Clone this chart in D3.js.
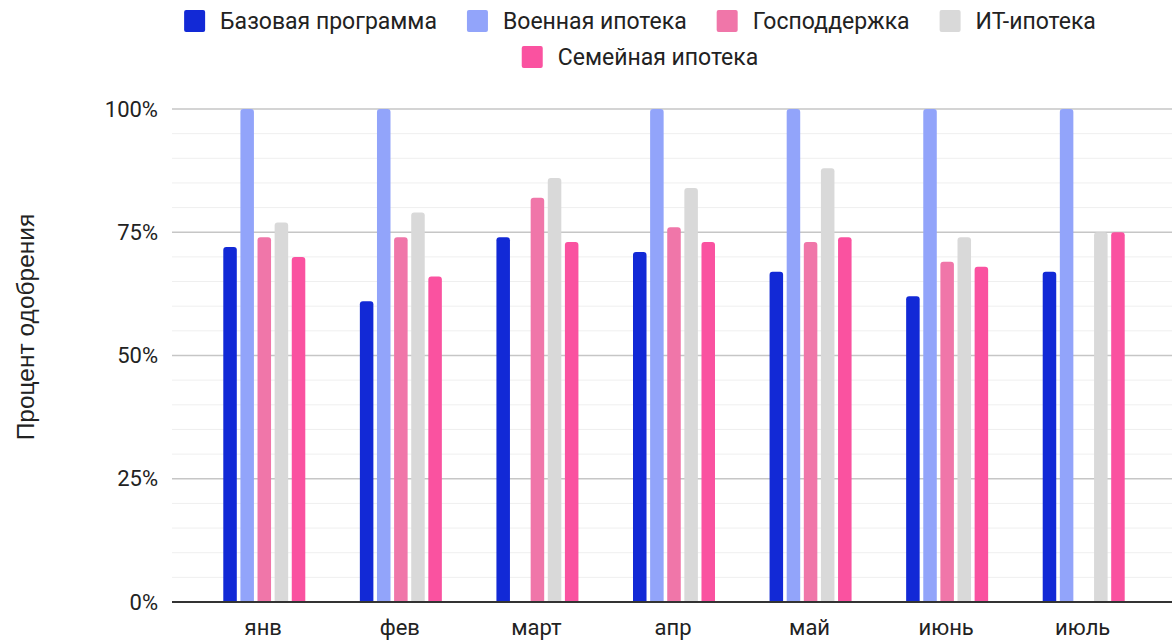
<!DOCTYPE html>
<html><head><meta charset="utf-8">
<script src="https://d3js.org/d3.v7.min.js"></script>
<style>
body { margin: 0; background: #fff; }
text { font-family: Roboto, "Noto Sans", sans-serif; fill: #222; }
</style></head>
<body>
<svg width="1172" height="641"></svg>
<script>
const months = ["янв", "фев", "март", "апр", "май", "июнь", "июль"];
const series = ["Базовая программа", "Военная ипотека", "Господдержка", "ИТ-ипотека", "Семейная ипотека"];
const colors = ["#1229d6", "#92a4fa", "#f076a9", "#d9d9d9", "#fa52a0"];
const bazovaya = [72, 61, 74, 71, 67, 62, 67];
const voennaya = [100, 100, null, 100, 100, 100, 100];
const gospod = [74, 74, 82, 76, 73, 69, null];
const itIpoteka = [77, 79, 86, 84, 88, 74, 75];
const semeynaya = [70, 66, 73, 73, 74, 68, 75];
const yTicks = [0, 25, 50, 75, 100];

const values = [bazovaya, voennaya, gospod, itIpoteka, semeynaya];
const svg = d3.select("svg");

const y = d3.scaleLinear().domain([0, 100]).range([602, 109]);
const x0 = d3.scaleBand().domain(months).range([196, 1152]);
const x1 = d3.scaleBand().domain(series).range([0, 82]).paddingInner(0.21);

// gridlines
svg.append("g").selectAll("line").data(d3.range(5, 100, 5).filter(v => v % 25 != 0))
  .enter().append("line")
  .attr("x1", 172).attr("x2", 1172)
  .attr("y1", d => y(d)).attr("y2", d => y(d))
  .attr("stroke", "#efefef");
svg.append("g").selectAll("line").data(yTicks.slice(1))
  .enter().append("line")
  .attr("x1", 172).attr("x2", 1172)
  .attr("y1", d => y(d)).attr("y2", d => y(d))
  .attr("stroke", "#c6c6c6").attr("stroke-width", 1.3);

// y labels
svg.append("g").selectAll("text").data(yTicks).enter().append("text")
  .attr("x", 158).attr("y", d => y(d)).attr("dy", "0.35em")
  .attr("text-anchor", "end").style("font-size", "22px")
  .text(d => d + "%");

svg.append("text")
  .attr("transform", "translate(25,327) rotate(-90)")
  .attr("text-anchor", "middle").attr("dy", "0.35em")
  .style("font-family", "'Liberation Sans', Arial, sans-serif")
  .style("font-size", "24.5px")
  .text("Процент одобрения");

// bars
function barPath(x, w, top, bottom, r) {
  r = Math.min(r, (bottom - top), w / 2);
  return "M" + x + "," + bottom + "V" + (top + r) +
    "Q" + x + "," + top + " " + (x + r) + "," + top +
    "H" + (x + w - r) + "Q" + (x + w) + "," + top + " " + (x + w) + "," + (top + r) +
    "V" + bottom + "Z";
}
const groups = svg.append("g").selectAll("g").data(months).enter().append("g")
  .attr("transform", d => "translate(" + (x0(d) + x0.bandwidth() / 2 - 41) + ",0)");
groups.selectAll("path")
  .data((m, i) => series.map((s, j) => ({ s: s, c: colors[j], v: values[j][i] })).filter(d => d.v != null))
  .enter().append("path")
  .attr("fill", d => d.c)
  .attr("d", d => barPath(x1(d.s), x1.bandwidth(), y(d.v), y(0), 3));

// baseline
svg.append("line").attr("x1", 172).attr("x2", 1172).attr("y1", y(0)).attr("y2", y(0))
  .attr("stroke", "#333").attr("stroke-width", 2);

// month labels
svg.append("g").selectAll("text").data(months).enter().append("text")
  .attr("x", d => x0(d) + x0.bandwidth() / 2 - 1).attr("y", 635)
  .attr("text-anchor", "middle").style("font-size", "22px")
  .text(d => d);

// legend
const rows = [series.slice(0, 4), series.slice(4)];
const legend = svg.append("g");
rows.forEach((row, ri) => {
  const g = legend.append("g");
  let cx = 0;
  row.forEach(s => {
    const item = g.append("g").attr("transform", "translate(" + cx + ",0)");
    item.append("rect").attr("x", 0).attr("y", -11).attr("width", 21).attr("height", 22).attr("rx", 2)
      .attr("fill", colors[series.indexOf(s)]);
    const t = item.append("text").attr("x", 36).attr("dy", "0.35em").style("font-size", "23px").text(s);
    cx += 36 + t.node().getComputedTextLength() + 30;
  });
  const w = cx - 30;
  g.attr("transform", "translate(" + (640 - w / 2) + "," + (21 + ri * 36) + ")");
});
</script>
</body></html>
